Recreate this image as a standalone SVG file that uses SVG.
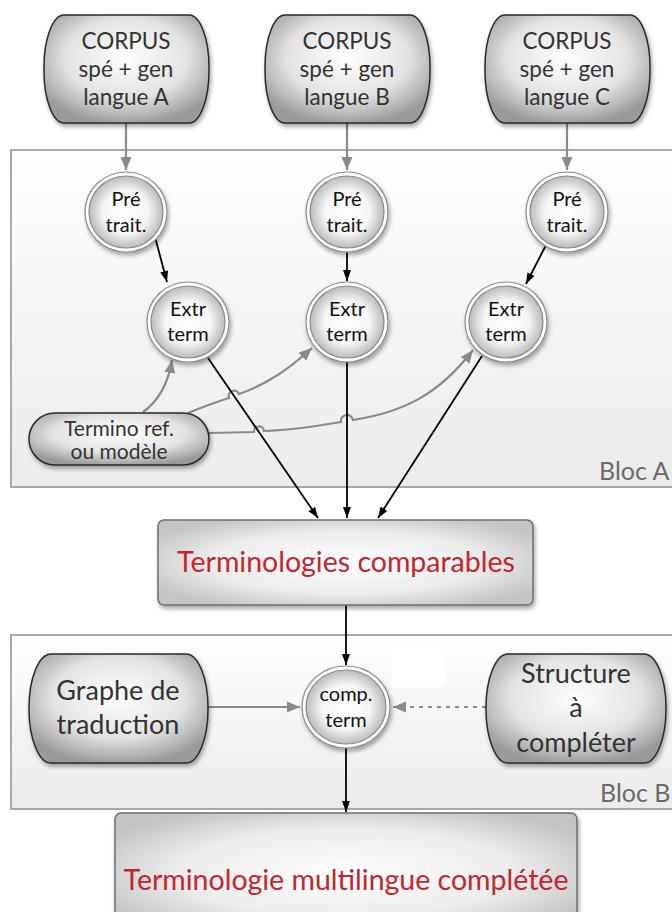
<svg xmlns="http://www.w3.org/2000/svg" width="672" height="912" viewBox="0 0 672 912">
<defs>
  <linearGradient id="blocG" x1="0" y1="0" x2="0" y2="1">
    <stop offset="0" stop-color="#ffffff"/>
    <stop offset="1" stop-color="#ebebeb"/>
  </linearGradient>
  <radialGradient id="nodeG" cx="0.5" cy="0.4" r="0.62">
    <stop offset="0" stop-color="#ffffff"/>
    <stop offset="0.6" stop-color="#e2e2e2"/>
    <stop offset="1" stop-color="#9a9a9a"/>
  </radialGradient>
  <radialGradient id="circG" cx="0.5" cy="0.5" r="0.5">
    <stop offset="0" stop-color="#ffffff"/>
    <stop offset="0.6" stop-color="#f6f6f6"/>
    <stop offset="1" stop-color="#bcbcbc"/>
  </radialGradient>
  <radialGradient id="boxG" cx="0.5" cy="0.5" r="0.6">
    <stop offset="0" stop-color="#ffffff"/>
    <stop offset="0.6" stop-color="#ececec"/>
    <stop offset="1" stop-color="#c4c4c4"/>
  </radialGradient>
  <filter id="sh" x="-20%" y="-20%" width="140%" height="150%">
    <feDropShadow dx="1.5" dy="3" stdDeviation="2" flood-color="#000" flood-opacity="0.35"/>
  </filter>
  <marker id="ab" markerUnits="userSpaceOnUse" markerWidth="12" markerHeight="10" refX="11" refY="5" orient="auto">
    <path d="M0,1 L11,5 L0,9 Z" fill="#000"/>
  </marker>
  <marker id="ag" markerUnits="userSpaceOnUse" markerWidth="14" markerHeight="12" refX="13" refY="6" orient="auto">
    <path d="M0,0.5 L13,6 L0,11.5 Z" fill="#8a8a8a"/>
  </marker>
  <style>
    .bloc{fill:url(#blocG);stroke:#a8a8a8;stroke-width:2}
    .blocT{font-family:Lato,"Liberation Sans",sans-serif;font-size:25px;fill:#6a6a6a}
    .node{fill:url(#nodeG);stroke:#2a2a2a;stroke-width:1.5;filter:url(#sh)}
    .ntxt{font-family:Lato,"Liberation Sans",sans-serif;fill:#333;text-anchor:middle}
    .outer{fill:#fff;stroke:#8a8a8a;stroke-width:1.2;filter:url(#sh)}
    .inner{fill:url(#circG);stroke:#8a8a8a;stroke-width:1.2}
    .ctxt{font-family:Lato,"Liberation Sans",sans-serif;font-size:20px;fill:#111;text-anchor:middle}
    .box{fill:url(#boxG);stroke:#6e6e6e;stroke-width:1.5;filter:url(#sh)}
    .rtxt{font-family:Lato,"Liberation Sans",sans-serif;fill:#c1272d;text-anchor:middle}
    .k{fill:none;stroke:#000;stroke-width:1.8;marker-end:url(#ab)}
    .g{fill:none;stroke:#8a8a8a;stroke-width:2.2;marker-end:url(#ag)}
    .gd{fill:none;stroke:#8a8a8a;stroke-width:2.2;stroke-dasharray:4 5;marker-end:url(#ag)}
  </style>
</defs>

<g id="blocA">
  <rect class="bloc" x="11" y="150" width="680" height="337"/>
  <text class="blocT" x="599" y="480">Bloc A</text>
</g>
<g id="blocB">
  <rect class="bloc" x="11" y="635" width="680" height="174"/>
  <text class="blocT" x="600" y="802">Bloc B</text>
  <rect x="392" y="647" width="54" height="38" fill="#ffffff"/>
</g>

<g id="connectors">
  <line class="g" x1="126" y1="122" x2="126" y2="170"/>
  <line class="g" x1="347" y1="122" x2="347" y2="170"/>
  <line class="g" x1="567" y1="122" x2="567" y2="170"/>
  <line class="k" x1="155" y1="237" x2="167" y2="282"/>
  <line class="k" x1="347" y1="252" x2="347" y2="281"/>
  <line class="k" x1="546" y1="245" x2="526" y2="284"/>
  <path class="g" d="M143,412 Q166,396 172,360"/>
  <path class="g" d="M188,413 Q210,404 229,398 A5,5 0 0 1 239,394 C268,384 290,368 312,348"/>
  <path class="g" d="M209,433 L254,432 A5,5 0 0 1 264,431 C292,430 318,426 341,422 A6,6 0 0 1 353,420 C405,412 440,393 473,350"/>
  <line class="k" x1="208" y1="358" x2="318" y2="518"/>
  <line class="k" x1="347" y1="362" x2="347" y2="518"/>
  <line class="k" x1="482" y1="356" x2="378" y2="518"/>
  <line class="k" x1="346" y1="605" x2="346" y2="665"/>
  <line class="g" x1="208" y1="707" x2="300" y2="707"/>
  <line class="gd" x1="486" y1="707" x2="393" y2="707"/>
  <line class="k" x1="346" y1="748" x2="346" y2="812"/>
</g>

<g id="corpusA">
  <rect class="node" x="44" y="15" width="165" height="108" rx="20" ry="52"/>
  <text class="ntxt" font-size="22.5" x="126" y="49">CORPUS</text>
  <text class="ntxt" font-size="22.5" x="126" y="77">spé + gen</text>
  <text class="ntxt" font-size="22.5" x="126" y="105">langue A</text>
</g>
<g id="corpusB">
  <rect class="node" x="265" y="15" width="165" height="108" rx="20" ry="52"/>
  <text class="ntxt" font-size="22.5" x="347" y="49">CORPUS</text>
  <text class="ntxt" font-size="22.5" x="347" y="77">spé + gen</text>
  <text class="ntxt" font-size="22.5" x="347" y="105">langue B</text>
</g>
<g id="corpusC">
  <rect class="node" x="485" y="15" width="165" height="108" rx="20" ry="52"/>
  <text class="ntxt" font-size="22.5" x="567" y="49">CORPUS</text>
  <text class="ntxt" font-size="22.5" x="567" y="77">spé + gen</text>
  <text class="ntxt" font-size="22.5" x="567" y="105">langue C</text>
</g>

<g id="preA">
  <ellipse class="outer" cx="126" cy="212" rx="41" ry="40"/>
  <ellipse class="inner" cx="126" cy="212" rx="37" ry="36"/>
  <text class="ctxt" x="126" y="206">Pré</text>
  <text class="ctxt" x="126" y="232">trait.</text>
</g>
<g id="preB">
  <ellipse class="outer" cx="347" cy="212" rx="41" ry="40"/>
  <ellipse class="inner" cx="347" cy="212" rx="37" ry="36"/>
  <text class="ctxt" x="347" y="206">Pré</text>
  <text class="ctxt" x="347" y="232">trait.</text>
</g>
<g id="preC">
  <ellipse class="outer" cx="567" cy="212" rx="41" ry="40"/>
  <ellipse class="inner" cx="567" cy="212" rx="37" ry="36"/>
  <text class="ctxt" x="567" y="206">Pré</text>
  <text class="ctxt" x="567" y="232">trait.</text>
</g>

<g id="extrA">
  <ellipse class="outer" cx="188" cy="322" rx="41" ry="40"/>
  <ellipse class="inner" cx="188" cy="322" rx="37" ry="36"/>
  <text class="ctxt" x="188" y="316">Extr</text>
  <text class="ctxt" x="188" y="341">term</text>
</g>
<g id="extrB">
  <ellipse class="outer" cx="347" cy="322" rx="41" ry="40"/>
  <ellipse class="inner" cx="347" cy="322" rx="37" ry="36"/>
  <text class="ctxt" x="347" y="316">Extr</text>
  <text class="ctxt" x="347" y="341">term</text>
</g>
<g id="extrC">
  <ellipse class="outer" cx="506" cy="322" rx="41" ry="40"/>
  <ellipse class="inner" cx="506" cy="322" rx="37" ry="36"/>
  <text class="ctxt" x="506" y="316">Extr</text>
  <text class="ctxt" x="506" y="341">term</text>
</g>

<g id="terminoRef">
  <rect class="node" x="29" y="413" width="180" height="52" rx="26" ry="26"/>
  <text class="ntxt" font-size="21" x="119" y="436">Termino ref.</text>
  <text class="ntxt" font-size="21" x="119" y="459">ou modèle</text>
</g>

<g id="termComparables">
  <rect class="box" x="158" y="520" width="375" height="85" rx="6"/>
  <text class="rtxt" font-size="28.5" x="346" y="572">Terminologies comparables</text>
</g>

<g id="grapheTraduction">
  <rect class="node" x="29" y="654" width="179" height="109" rx="22" ry="54"/>
  <text class="ntxt" font-size="27" x="118" y="700">Graphe de</text>
  <text class="ntxt" font-size="27" x="118" y="734">traduction</text>
</g>

<g id="compTerm">
  <ellipse class="outer" cx="346" cy="707" rx="44" ry="41"/>
  <ellipse class="inner" cx="346" cy="707" rx="40" ry="37"/>
  <text class="ctxt" font-size="19" x="346" y="701">comp.</text>
  <text class="ctxt" font-size="19" x="346" y="727">term</text>
</g>

<g id="structure">
  <rect class="node" x="486" y="654" width="180" height="109" rx="22" ry="54"/>
  <text class="ntxt" font-size="27" x="576" y="683">Structure</text>
  <text class="ntxt" font-size="27" x="576" y="717">à</text>
  <text class="ntxt" font-size="27" x="576" y="752">compléter</text>
</g>

<g id="termMultilingue">
  <rect class="box" x="115" y="813" width="462" height="120" rx="6"/>
  <text class="rtxt" font-size="28.5" x="346" y="890">Terminologie multilingue complétée</text>
</g>
</svg>
